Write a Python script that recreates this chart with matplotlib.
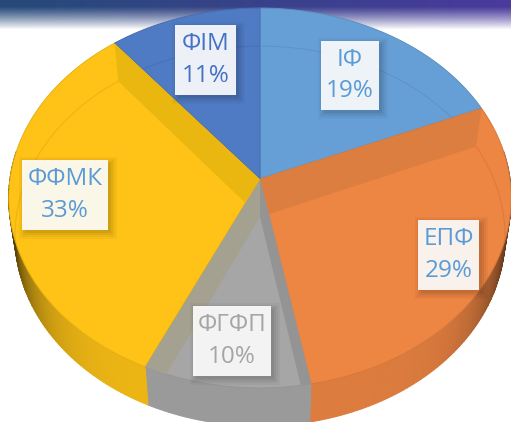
import numpy as np
import matplotlib

matplotlib.use("Agg")
import matplotlib.pyplot as plt
from matplotlib.patches import Polygon, Rectangle

labels = ["ІФ", "ЕПФ", "ФГФП", "ФФМК", "ФІМ"]
values = [19, 29, 10, 33, 11]
colors = ["#669FD6", "#ED8543", "#A6A6A6", "#FEC316", "#4F7AC4"]
text_colors = ["#5B9BD5", "#5B9BD5", "#A5A5A5", "#5B9BD5", "#4472C4"]
boxes = [(321, 41, 58, 69), (418, 220, 61, 70), (193, 306, 78, 70), (22, 160, 86, 70), (175, 25, 61, 70)]

# cut walls seen through the top: slice index, which edge of it, colour
walls = [(1, "start", "#DC7E40"), (2, "start", "#949494"), (2, "stop", "#A5A190"), (3, "stop", "#E9B70F")]

CX, CY = 260, 179
A, B, K = 250, 188, 0.1
DEPTH = 38
FLOOR_SCALE = 0.975


def project(theta):
    # disc angle (clockwise from the top) to picture pixels, with some perspective
    u, v = np.sin(theta), np.cos(theta)
    w = 1 + K * v
    return CX + A * u / w, CY - B * v / w


def floor(x, y):
    return CX + (x - CX) * FLOOR_SCALE, y + DEPTH


def shade(color, factor):
    return tuple(min(1, c * factor) for c in matplotlib.colors.to_rgb(color))


def draw_side(ax, start, stop, color):
    angles = np.linspace(start, stop, max(int((stop - start) * 60), 2) + 1)
    for a0, a1 in zip(angles[:-1], angles[1:]):
        x0, y0 = project(a0)
        x1, y1 = project(a1)
        fx0, fy0 = floor(x0, y0)
        fx1, fy1 = floor(x1, y1)
        # dark towards the left and right ends of the pie
        edge = abs(np.sin((a0 + a1) / 2))
        factor = 0.93 - 0.65 * edge**7
        ax.add_patch(
            Polygon(
                [(x0, y0), (x1, y1), (fx1, fy1), (fx0, fy0)],
                facecolor=shade(color, factor),
                edgecolor=shade(color, factor),
                linewidth=0.8,
                zorder=2,
            )
        )


def main() -> None:
    fig = plt.figure(figsize=(5.11, 4.22), dpi=100)
    ax = fig.add_axes([0, 0, 1, 1])

    # header band fading out to white
    band = np.zeros((30, 256, 4))
    left, right = np.array(matplotlib.colors.to_rgb("#254A78")), np.array(matplotlib.colors.to_rgb("#4A3A9C"))
    for i in range(256):
        band[:, i, :3] = left + (right - left) * i / 255
    band[:, :, 3] = np.clip(1.15 - np.linspace(0, 1, 30) ** 1.3 * 1.15, 0, 1)[:, None]
    ax.imshow(band, extent=(0, 511, 30, 0), aspect="auto", zorder=1, interpolation="bilinear")
    ax.set_xlim(0, 511)
    ax.set_ylim(422, 0)
    ax.axis("off")

    shares = np.array(values) / sum(values)
    edges = np.concatenate([[0], np.cumsum(shares)]) * 2 * np.pi

    tops = []
    for i, color in enumerate(colors):
        start, stop = edges[i], edges[i + 1]
        angles = np.linspace(start, stop, 80)
        x, y = project(angles)

        # outer wall, only the front part shows
        front_start = max(start, np.pi / 2 - 0.15)
        front_stop = min(stop, 3 * np.pi / 2 + 0.15)
        if front_stop > front_start:
            draw_side(ax, front_start, front_stop, color)

        top = Polygon(
            list(zip(x, y)) + [(CX, CY)],
            facecolor=color,
            edgecolor=shade(color, 0.9),
            linewidth=0.7,
            zorder=3,
        )
        ax.add_patch(top)
        tops.append(top)

        # the floor of the pie showing through the top
        fx, fy = floor(x, y)
        line = ax.plot(fx, fy, color=shade(color, 0.88), lw=0.8, alpha=0.6, zorder=4)[0]
        line.set_clip_path(top)

    for index, side, color in walls:
        angle = edges[index] if side == "start" else edges[index + 1]
        rx, ry = project(angle)
        fx, fy = floor(rx, ry)
        wall = Polygon(
            [(CX, CY), (rx, ry), (fx, fy), (CX, CY + DEPTH)],
            facecolor=color,
            edgecolor="none",
            zorder=4,
        )
        ax.add_patch(wall)
        wall.set_clip_path(tops[index])

    for label, value, tcolor, (x, y, w, h) in zip(labels, values, text_colors, boxes):
        # soft shadow behind the label
        for grow, alpha in zip([6, 4, 2, 0], [0.03, 0.04, 0.05, 0.06]):
            ax.add_patch(
                Rectangle(
                    (x + 3 - grow, y + 3 - grow),
                    w + 2 * grow,
                    h + 2 * grow,
                    facecolor="black",
                    alpha=alpha,
                    edgecolor="none",
                    zorder=5,
                )
            )
        ax.add_patch(Rectangle((x, y), w, h, facecolor="white", alpha=0.91, edgecolor="none", zorder=6))
        ax.text(
            x + w / 2,
            y + h / 2,
            f"{label}\n{value}%",
            ha="center",
            va="center",
            color=tcolor,
            fontsize=17.5,
            family="Open Sans",
            linespacing=1.4,
            zorder=7,
        )

    fig.savefig("out.png", dpi=100)


if __name__ == "__main__":
    main()
